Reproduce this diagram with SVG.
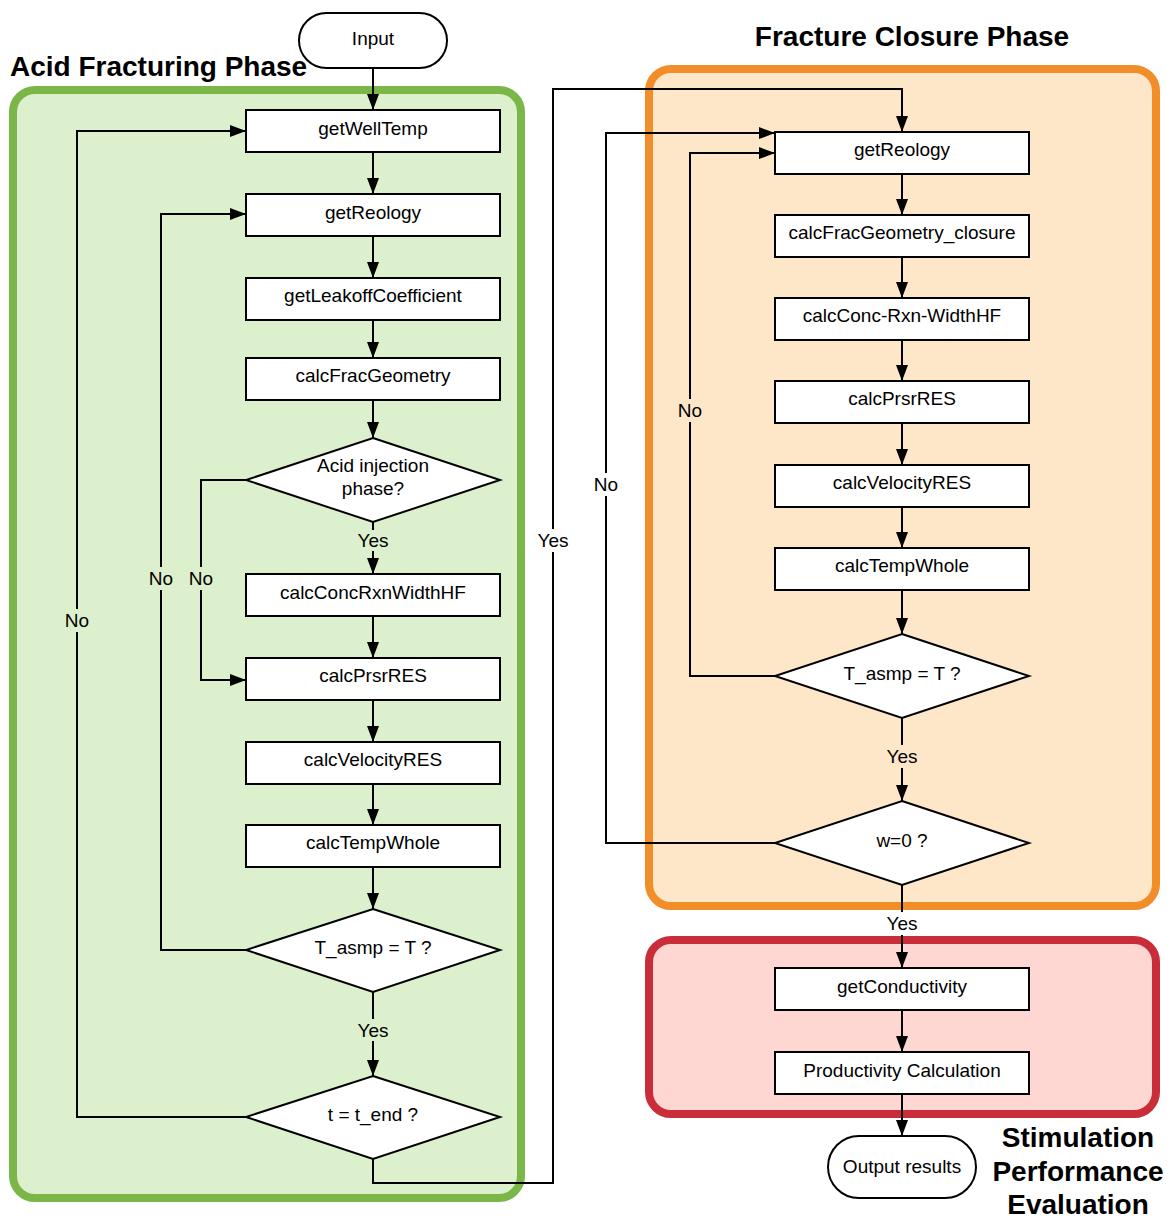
<svg xmlns="http://www.w3.org/2000/svg" width="1171" height="1218" viewBox="0 0 1171 1218">
<defs>
<marker id="ah" viewBox="0 0 16 12" refX="16" refY="6" markerWidth="16" markerHeight="12" markerUnits="userSpaceOnUse" orient="auto">
<path d="M0,0 L16,6 L0,12 z" fill="#000"/>
</marker>
</defs>
<style>
.box{fill:#fff;stroke:#000;stroke-width:2}
.t{font-family:"Liberation Sans",Arial,sans-serif;font-size:19px;fill:#000;text-anchor:middle}
.title{font-family:"Liberation Sans",Arial,sans-serif;font-size:28px;font-weight:bold;fill:#000}
.c{fill:none;stroke:#000;stroke-width:2}
.ca{fill:none;stroke:#000;stroke-width:2;marker-end:url(#ah)}
</style>
<rect width="1171" height="1218" fill="#fff"/>
<g id="containers">
<rect id="acid-phase" x="13" y="90" width="508" height="1108" rx="22" fill="#ddf0cd" stroke="#7ab648" stroke-width="8"/>
<rect id="closure-phase" x="649" y="69" width="507" height="837" rx="22" fill="#fee7c8" stroke="#f28e29" stroke-width="8"/>
<rect id="stim-phase" x="649" y="940" width="507" height="174" rx="22" fill="#fed6d2" stroke="#c92d39" stroke-width="8"/>
</g>
<g id="titles">
<text class="title" x="10" y="76">Acid Fracturing Phase</text>
<text class="title" x="912" y="46" text-anchor="middle">Fracture Closure Phase</text>
<text class="title" x="1078" y="1147" text-anchor="middle">Stimulation</text>
<text class="title" x="1078" y="1181" text-anchor="middle">Performance</text>
<text class="title" x="1078" y="1214" text-anchor="middle">Evaluation</text>
</g>
<g id="connectors">
<path class="ca" d="M373,68 V110"/>
<path class="ca" d="M373,152 V194"/>
<path class="ca" d="M373,236 V278"/>
<path class="ca" d="M373,320 V358"/>
<path class="ca" d="M373,400 V438"/>
<path class="c" d="M373,522 V530"/>
<path class="ca" d="M373,551 V574"/>
<path class="ca" d="M373,616 V658"/>
<path class="ca" d="M373,700 V742"/>
<path class="ca" d="M373,784 V825"/>
<path class="ca" d="M373,867 V909"/>
<path class="c" d="M373,992 V1019"/>
<path class="ca" d="M373,1041 V1076"/>
<path class="c" d="M246,480 H201 V567"/>
<path class="ca" d="M201,590 V680 H246"/>
<path class="c" d="M246,950 H161 V590"/>
<path class="ca" d="M161,567 V214 H246"/>
<path class="c" d="M246,1117 H77 V632"/>
<path class="ca" d="M77,609 V131 H246"/>
<path class="c" d="M373,1159 V1183 H553 V552"/>
<path class="ca" d="M553,529 V89 H902 V132"/>
<path class="ca" d="M902,174 V215"/>
<path class="ca" d="M902,257 V298"/>
<path class="ca" d="M902,340 V381"/>
<path class="ca" d="M902,423 V465"/>
<path class="ca" d="M902,507 V548"/>
<path class="ca" d="M902,590 V634"/>
<path class="c" d="M775,676 H690 V422"/>
<path class="ca" d="M690,399 V153 H775"/>
<path class="c" d="M775,843 H606 V496"/>
<path class="ca" d="M606,473 V133 H775"/>
<path class="c" d="M902,718 V745"/>
<path class="ca" d="M902,768 V801"/>
<path class="c" d="M902,885 V912"/>
<path class="ca" d="M902,935 V968"/>
<path class="ca" d="M902,1010 V1052"/>
<path class="ca" d="M902,1094 V1136"/>
<text class="t" x="373" y="547">Yes</text>
<text class="t" x="373" y="1037">Yes</text>
<text class="t" x="201" y="585">No</text>
<text class="t" x="161" y="585">No</text>
<text class="t" x="77" y="627">No</text>
<text class="t" x="553" y="547">Yes</text>
<text class="t" x="690" y="417">No</text>
<text class="t" x="606" y="491">No</text>
<text class="t" x="902" y="763">Yes</text>
<text class="t" x="902" y="930">Yes</text>
</g>
<g id="input"><rect class="box" x="299" y="13" width="148" height="55" rx="27.5"/><text class="t" x="373" y="45">Input</text></g>
<g id="getWellTemp"><rect class="box" x="246" y="110" width="254" height="42"/><text class="t" x="373" y="135">getWellTemp</text></g>
<g id="getReology1"><rect class="box" x="246" y="194" width="254" height="42"/><text class="t" x="373" y="219">getReology</text></g>
<g id="getLeakoffCoefficient"><rect class="box" x="246" y="278" width="254" height="42"/><text class="t" x="373" y="302">getLeakoffCoefficient</text></g>
<g id="calcFracGeometry"><rect class="box" x="246" y="358" width="254" height="42"/><text class="t" x="373" y="382">calcFracGeometry</text></g>
<g id="acidInjection"><polygon class="box" points="373,438 500,480 373,522 246,480"/><text class="t" x="373" y="472">Acid injection</text><text class="t" x="373" y="495">phase?</text></g>
<g id="calcConcRxnWidthHF"><rect class="box" x="246" y="574" width="254" height="42"/><text class="t" x="373" y="599">calcConcRxnWidthHF</text></g>
<g id="calcPrsrRES1"><rect class="box" x="246" y="658" width="254" height="42"/><text class="t" x="373" y="682">calcPrsrRES</text></g>
<g id="calcVelocityRES1"><rect class="box" x="246" y="742" width="254" height="42"/><text class="t" x="373" y="766">calcVelocityRES</text></g>
<g id="calcTempWhole1"><rect class="box" x="246" y="825" width="254" height="42"/><text class="t" x="373" y="849">calcTempWhole</text></g>
<g id="tasmp1"><polygon class="box" points="373,909 500,950 373,992 246,950"/><text class="t" x="373" y="954">T_asmp = T ?</text></g>
<g id="tend"><polygon class="box" points="373,1076 500,1117 373,1159 246,1117"/><text class="t" x="373" y="1121">t = t_end ?</text></g>
<g id="getReology2"><rect class="box" x="775" y="132" width="254" height="42"/><text class="t" x="902" y="156">getReology</text></g>
<g id="calcFracGeometry_closure"><rect class="box" x="775" y="215" width="254" height="42"/><text class="t" x="902" y="239">calcFracGeometry_closure</text></g>
<g id="calcConc-Rxn-WidthHF"><rect class="box" x="775" y="298" width="254" height="42"/><text class="t" x="902" y="322">calcConc-Rxn-WidthHF</text></g>
<g id="calcPrsrRES2"><rect class="box" x="775" y="381" width="254" height="42"/><text class="t" x="902" y="405">calcPrsrRES</text></g>
<g id="calcVelocityRES2"><rect class="box" x="775" y="465" width="254" height="42"/><text class="t" x="902" y="489">calcVelocityRES</text></g>
<g id="calcTempWhole2"><rect class="box" x="775" y="548" width="254" height="42"/><text class="t" x="902" y="572">calcTempWhole</text></g>
<g id="tasmp2"><polygon class="box" points="902,634 1029,676 902,718 775,676"/><text class="t" x="902" y="680">T_asmp = T ?</text></g>
<g id="w0"><polygon class="box" points="902,801 1029,843 902,885 775,843"/><text class="t" x="902" y="847">w=0 ?</text></g>
<g id="getConductivity"><rect class="box" x="775" y="968" width="254" height="42"/><text class="t" x="902" y="993">getConductivity</text></g>
<g id="productivity"><rect class="box" x="775" y="1052" width="254" height="42"/><text class="t" x="902" y="1077">Productivity Calculation</text></g>
<g id="output"><rect class="box" x="828" y="1136" width="148" height="62" rx="31"/><text class="t" x="902" y="1173">Output results</text></g>
</svg>
